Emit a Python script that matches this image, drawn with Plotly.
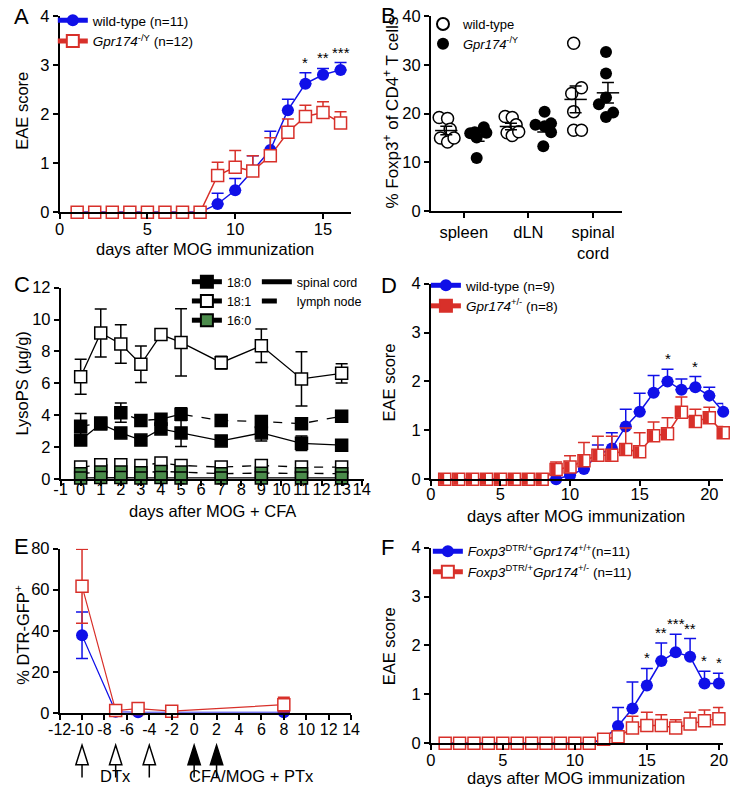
import numpy as np
import plotly.graph_objects as go

W, H = 740, 803
FONT = "Arial, 'Liberation Sans', sans-serif"
BLUE = "#1010e8"
RED = "#d8302a"
GREEN = "#4b8b4b"

# ---------------- Panel A data ----------------
a_days = list(range(1, 17))
a_wt = [0, 0, 0, 0, 0, 0, 0, 0, 0.17, 0.45, 0.85, 1.27, 2.08, 2.62, 2.80, 2.90]
a_wt_err = [0, 0, 0, 0, 0, 0, 0, 0, 0.22, 0.24, 0.30, 0.38, 0.22, 0.22, 0.13, 0.15]
a_ko = [0, 0, 0, 0, 0, 0, 0, 0, 0.75, 0.92, 0.84, 1.15, 1.63, 1.95, 2.03, 1.82]
a_ko_err = [0, 0, 0, 0, 0, 0, 0, 0, 0.27, 0.34, 0.31, 0.37, 0.27, 0.23, 0.22, 0.23]
a_sig_days = [14, 15, 16]
a_sig = ["*", "**", "***"]

# ---------------- Panel B data ----------------
b_tissues = ["spleen", "dLN", "spinal<br>cord"]
b_wt = [
    [19.2, 19.0, 16.8, 15.0, 14.2, 15.0],
    [19.4, 19.2, 17.7, 16.1, 15.5, 16.3],
    [34.4, 24.1, 25.3, 20.4, 16.6, 16.6],
]
b_ko = [
    [16.0, 16.2, 17.2, 15.1, 16.1, 10.9],
    [17.7, 20.4, 17.4, 18.0, 16.2, 13.3],
    [32.6, 28.2, 23.3, 21.9, 19.3, 20.2],
]
b_wt_jitter = [
    [-0.11, 0.02, 0.06, -0.09, 0.02, 0.12],
    [-0.09, 0.02, 0.08, -0.06, 0.02, 0.12],
    [-0.03, -0.06, 0.09, -0.03, -0.03, 0.09],
]
b_ko_jitter = [
    [-0.13, -0.06, 0.08, -0.03, 0.12, -0.03],
    [-0.12, 0.02, 0.02, 0.12, 0.12, 0.0],
    [-0.03, -0.03, -0.03, -0.14, -0.03, 0.08],
]

# ---------------- Panel C data ----------------
c_days = [0, 1, 2, 3, 4, 5, 7, 9, 11, 13]
c181_sc = [6.42, 9.16, 8.47, 7.20, 9.06, 8.57, 7.30, 8.36, 6.28, 6.63]
c181_sc_err = [1.10, 1.50, 1.20, 1.15, 0.10, 2.10, 0.40, 1.05, 1.70, 0.60]
c180_ln = [3.31, 3.52, 4.17, 3.68, 3.76, 4.07, 3.68, 3.62, 3.48, 3.95]
c180_ln_err = [0.80, 0.20, 0.60, 0.35, 0.30, 0.40, 0.20, 0.35, 0.20, 0.15]
c180_sc = [2.45, 3.46, 2.90, 2.45, 3.15, 2.90, 2.40, 2.90, 2.25, 2.13]
c180_sc_err = [0.30, 0.15, 0.15, 0.15, 0.20, 0.85, 0.15, 0.50, 0.45, 0.15]
c181_ln = [0.76, 0.90, 0.90, 0.86, 1.02, 0.86, 0.76, 0.86, 0.76, 0.76]
c160_ln = [0.35, 0.45, 0.45, 0.40, 0.49, 0.45, 0.35, 0.38, 0.35, 0.35]
c160_sc = [0.08, 0.10, 0.10, 0.08, 0.10, 0.08, 0.08, 0.08, 0.08, 0.08]
c_xticks = list(range(-1, 15))
c_xticklabels = ["-1"] + [str(v) for v in range(0, 15)]

# ---------------- Panel D data ----------------
d_days = list(range(1, 22))
d_wt = [0, 0, 0, 0, 0, 0, 0, 0, 0.0, 0.08, 0.21, 0.50, 0.63, 1.08, 1.38, 1.77, 2.00, 1.83, 1.88, 1.71, 1.38]
d_wt_err = [0, 0, 0, 0, 0, 0, 0, 0, 0, 0.05, 0.10, 0.20, 0.32, 0.35, 0.38, 0.35, 0.25, 0.22, 0.22, 0.17, 0.17]
d_het = [0, 0, 0, 0, 0, 0, 0, 0, 0.20, 0.25, 0.38, 0.49, 0.49, 0.61, 0.56, 0.89, 0.93, 1.37, 1.18, 1.26, 0.95]
d_het_err = [0, 0, 0, 0, 0, 0, 0, 0, 0.15, 0.23, 0.37, 0.39, 0.39, 0.44, 0.39, 0.28, 0.33, 0.31, 0.25, 0.21, 0.13]
d_sig_days = [17, 19]
d_sig = ["*", "*"]

# ---------------- Panel E data ----------------
e_days = [-10, -7, -5, -2, 8]
e_wt = [37.8, 0.5, 0.3, 0.3, 0.3]
e_wt_err = [11.3, 0.3, 0.3, 0.2, 0.3]
e_het = [61.7, 1.1, 2.1, 0.8, 4.0]
e_het_err = [18.0, 0.5, 0.6, 0.4, 3.6]
e_dtx_days = [-10, -7, -4]
e_immun_days = [0, 2]
e_xticks = list(range(-12, 15, 2))
e_xticklabels = [str(v) for v in e_xticks]

# ---------------- Panel F data ----------------
f_days = list(range(1, 21))
f_wt = [0, 0, 0, 0, 0, 0, 0, 0, 0, 0, 0, 0.08, 0.35, 0.71, 1.18, 1.68, 1.86, 1.77, 1.22, 1.22]
f_wt_err = [0, 0, 0, 0, 0, 0, 0, 0, 0, 0, 0, 0, 0.38, 0.54, 0.35, 0.37, 0.37, 0.37, 0.25, 0.21]
f_het = [0, 0, 0, 0, 0, 0, 0, 0, 0, 0, 0, 0.08, 0.13, 0.31, 0.36, 0.36, 0.31, 0.39, 0.46, 0.50]
f_het_err = [0, 0, 0, 0, 0, 0, 0, 0, 0, 0, 0, 0, 0.10, 0.24, 0.27, 0.22, 0.17, 0.24, 0.22, 0.23]
f_sig_days = [15, 16, 17, 18, 19, 20]
f_sig = ["*", "**", "***", "**", "*", "*"]


def dx(a, b):
    return [a / W, b / W]


def dy(top, bottom):
    return [1 - bottom / H, 1 - top / H]


def ypx(p):
    return 1 - p / H


fig = go.Figure()

axis_style = dict(
    showline=True, linecolor="black", linewidth=1.5, ticks="outside",
    ticklen=5, tickwidth=1.5, tickcolor="black", showgrid=False,
    zeroline=False, tickfont=dict(size=16.5, family=FONT, color="black"),
)

panels = {
    # name: (xdom px, ydom px, xrange, yrange, xticks, yticks, x label standoff)
    "1": ((49, 349), (7, 208), [0, 16.6], [0, 4], [0, 5, 10, 15], [0, 1, 2, 3, 4], -4),
    "2": ((431, 628), (7, 207), [0.49, 3.45], [0, 40], [1, 2, 3], [0, 10, 20, 30, 40], 0),
    "3": ((50, 362), (285, 481), [-1, 14.1], [0, 12], c_xticks, [0, 2, 4, 6, 8, 10, 12], -11),
    "4": ((431, 732), (281, 481), [0, 21.0], [0, 4], [0, 5, 10, 15, 20], [0, 1, 2, 3, 4], -6),
    "5": ((49, 349), (552, 720), [-12, 14], [0, 80], e_xticks, [0, 20, 40, 60, 80], -4),
    "6": ((431, 732), (551, 751), [0, 20.3], [0, 4], [0, 5, 10, 15, 20], [0, 1, 2, 3, 4], -4),
}
for k, (xd, yd, xr, yr, xt, yt, so) in panels.items():
    xa = dict(axis_style, domain=dx(*xd), range=xr, tickvals=xt, anchor="y" + k,
              tickangle=0, ticklabelstandoff=so)
    ya = dict(axis_style, domain=dy(*yd), range=yr, tickvals=yt, anchor="x" + k)
    if k == "2":
        xa["ticktext"] = b_tissues
    if k == "3":
        xa["ticktext"] = c_xticklabels
    if k == "5":
        xa["ticktext"] = e_xticklabels
        xa["tickfont"] = dict(size=16, family=FONT, color="black")
    fig.update_layout(**{("xaxis" if k == "1" else "xaxis" + k): xa,
                         ("yaxis" if k == "1" else "yaxis" + k): ya})
fig.layout.xaxis.anchor = "y"
fig.layout.yaxis.anchor = "x"


def ax(k):
    return ("x" if k == "1" else "x" + k), ("y" if k == "1" else "y" + k)


def up_err(err, color, width=6):
    return dict(type="data", array=err, arrayminus=[0] * len(err), symmetric=False,
                color=color, thickness=1.5, width=width)


def sym_err(err, color, width=6):
    return dict(type="data", array=err, symmetric=True, color=color, thickness=1.5, width=width)


# ---------------- Panel A ----------------
xa_, ya_ = ax("1")
fig.add_trace(go.Scatter(x=a_days, y=a_ko, mode="lines", line=dict(color=RED, width=1.5),
                         xaxis=xa_, yaxis=ya_, showlegend=False, cliponaxis=False))
fig.add_trace(go.Scatter(x=a_days, y=a_wt, mode="lines+markers", line=dict(color=BLUE, width=1.5),
                         marker=dict(symbol="circle", size=12, color=BLUE),
                         error_y=up_err(a_wt_err, BLUE), xaxis=xa_, yaxis=ya_,
                         name="wild-type (n=11)", legend="legend", cliponaxis=False))
fig.add_trace(go.Scatter(x=a_days, y=a_ko, mode="markers",
                         marker=dict(symbol="square", size=12, color="white", line=dict(color=RED, width=1.5)),
                         error_y=up_err(a_ko_err, RED), xaxis=xa_, yaxis=ya_, showlegend=False, cliponaxis=False))
fig.add_trace(go.Scatter(x=[None], y=[None], mode="lines+markers", line=dict(color=RED, width=1.5),
                         marker=dict(symbol="square", size=12, color="white", line=dict(color=RED, width=1.5)),
                         xaxis=xa_, yaxis=ya_, name="<i>Gpr174</i><sup>-/Y</sup> (n=12)", legend="legend"))

# ---------------- Panel B ----------------
xa_, ya_ = ax("2")
wt_off, ko_off = -0.27, 0.23
for gi, (vals, jit) in enumerate(zip(b_wt, b_wt_jitter)):
    cx = gi + 1 + wt_off
    fig.add_trace(go.Scatter(x=[cx + j for j in jit], y=vals, mode="markers",
                             marker=dict(symbol="circle", size=12, color="white", line=dict(color="black", width=1.5)),
                             xaxis=xa_, yaxis=ya_, showlegend=False, cliponaxis=False))
for gi, (vals, jit) in enumerate(zip(b_ko, b_ko_jitter)):
    cx = gi + 1 + ko_off
    fig.add_trace(go.Scatter(x=[cx + j for j in jit], y=vals, mode="markers",
                             marker=dict(symbol="circle", size=12, color="black"),
                             xaxis=xa_, yaxis=ya_, showlegend=False, cliponaxis=False))
for groups, off in ((b_wt, wt_off), (b_ko, ko_off)):
    means = [float(np.mean(v)) for v in groups]
    sems = [float(np.std(v, ddof=1) / np.sqrt(len(v))) for v in groups]
    fig.add_trace(go.Scatter(x=[i + 1 + off for i in range(3)], y=means, mode="markers",
                             marker=dict(symbol="line-ew", size=16, line=dict(color="black", width=1.5)),
                             error_y=sym_err(sems, "black", 6), xaxis=xa_, yaxis=ya_,
                             showlegend=False, cliponaxis=False))
fig.add_trace(go.Scatter(x=[None], y=[None], mode="markers",
                         marker=dict(symbol="circle", size=11, color="white", line=dict(color="black", width=1.5)),
                         xaxis=xa_, yaxis=ya_, name="wild-type", legend="legend2"))
fig.add_trace(go.Scatter(x=[None], y=[None], mode="markers",
                         marker=dict(symbol="circle", size=11, color="black"),
                         xaxis=xa_, yaxis=ya_, name="<i>Gpr174</i><sup>-/Y</sup>", legend="legend2"))

# ---------------- Panel C ----------------
xa_, ya_ = ax("3")
c_series = [
    (c181_sc, c181_sc_err, "white", "solid"),
    (c180_ln, c180_ln_err, "black", "dash"),
    (c180_sc, c180_sc_err, "black", "solid"),
    (c181_ln, None, "white", "dash"),
    (c160_ln, None, GREEN, "dash"),
    (c160_sc, None, GREEN, "solid"),
]
for vals, err, fillc, dash in c_series:
    tr = dict(x=c_days, y=vals, mode="lines+markers", line=dict(color="black", width=1.3, dash=dash),
              marker=dict(symbol="square", size=12, color=fillc, line=dict(color="black", width=1.5)),
              xaxis=xa_, yaxis=ya_, showlegend=False, cliponaxis=False)
    if err is not None:
        tr["error_y"] = sym_err(err, "black", 6)
    fig.add_trace(go.Scatter(**tr))
for name, fillc in (("18:0", "black"), ("18:1", "white"), ("16:0", GREEN)):
    fig.add_trace(go.Scatter(x=[None], y=[None], mode="lines+markers", line=dict(color="black", width=1.3),
                             marker=dict(symbol="square", size=11, color=fillc, line=dict(color="black", width=1.5)),
                             xaxis=xa_, yaxis=ya_, name=name, legend="legend3"))
for name, dash in (("spinal cord", "solid"), ("lymph node", "dash")):
    fig.add_trace(go.Scatter(x=[None], y=[None], mode="lines", line=dict(color="black", width=1.3, dash=dash),
                             xaxis=xa_, yaxis=ya_, name=name, legend="legend4"))

# ---------------- Panel D ----------------
xa_, ya_ = ax("4")
fig.add_trace(go.Scatter(x=d_days, y=d_het, mode="lines", line=dict(color=RED, width=1.5),
                         xaxis=xa_, yaxis=ya_, showlegend=False, cliponaxis=False))
fig.add_trace(go.Scatter(x=d_days, y=d_wt, mode="lines+markers", line=dict(color=BLUE, width=1.5),
                         marker=dict(symbol="circle", size=12, color=BLUE),
                         error_y=up_err(d_wt_err, BLUE), xaxis=xa_, yaxis=ya_,
                         name="wild-type (n=9)", legend="legend5", cliponaxis=False))
fig.add_trace(go.Scatter(x=d_days, y=d_het, mode="markers",
                         marker=dict(symbol="square", size=12, color="white", line=dict(color=RED, width=1.5)),
                         error_y=up_err(d_het_err, RED), xaxis=xa_, yaxis=ya_, showlegend=False, cliponaxis=False))
# right half fill of the half-filled squares (marker pushed a few px right via standoff)
fig.add_trace(go.Scatter(x=d_days, y=d_het, mode="markers",
                         marker=dict(symbol="line-ew", size=8, angle=90, standoff=3,
                                     line=dict(color=RED, width=5)),
                         xaxis=xa_, yaxis=ya_, showlegend=False, cliponaxis=False))
fig.add_trace(go.Scatter(x=[None], y=[None], mode="lines+markers", line=dict(color=RED, width=1.5),
                         marker=dict(symbol="square", size=12, color=RED, line=dict(color=RED, width=1.5)),
                         xaxis=xa_, yaxis=ya_, name="<i>Gpr174</i><sup>+/-</sup> (n=8)", legend="legend5"))

# ---------------- Panel E ----------------
xa_, ya_ = ax("5")
fig.add_trace(go.Scatter(x=e_days, y=e_wt, mode="lines+markers", line=dict(color=BLUE, width=1.2),
                         marker=dict(symbol="circle", size=12, color=BLUE),
                         error_y=sym_err(e_wt_err, BLUE), xaxis=xa_, yaxis=ya_, showlegend=False, cliponaxis=False))
fig.add_trace(go.Scatter(x=e_days, y=e_het, mode="lines+markers", line=dict(color=RED, width=1.2),
                         marker=dict(symbol="square", size=12, color="white", line=dict(color=RED, width=1.5)),
                         error_y=sym_err(e_het_err, RED), xaxis=xa_, yaxis=ya_, showlegend=False, cliponaxis=False))

# ---------------- Panel F ----------------
xa_, ya_ = ax("6")
fig.add_trace(go.Scatter(x=f_days, y=f_het, mode="lines", line=dict(color=RED, width=1.5),
                         xaxis=xa_, yaxis=ya_, showlegend=False, cliponaxis=False))
fig.add_trace(go.Scatter(x=f_days, y=f_wt, mode="lines+markers", line=dict(color=BLUE, width=1.5),
                         marker=dict(symbol="circle", size=12, color=BLUE),
                         error_y=up_err(f_wt_err, BLUE), xaxis=xa_, yaxis=ya_,
                         name="<i>Foxp3</i><sup>DTR/+</sup><i>Gpr174</i><sup>+/+</sup>(n=11)",
                         legend="legend6", cliponaxis=False))
fig.add_trace(go.Scatter(x=f_days, y=f_het, mode="markers",
                         marker=dict(symbol="square", size=12, color="white", line=dict(color=RED, width=1.5)),
                         error_y=up_err(f_het_err, RED), xaxis=xa_, yaxis=ya_, showlegend=False, cliponaxis=False))
fig.add_trace(go.Scatter(x=[None], y=[None], mode="lines+markers", line=dict(color=RED, width=1.5),
                         marker=dict(symbol="square", size=12, color="white", line=dict(color=RED, width=1.5)),
                         xaxis=xa_, yaxis=ya_, name="<i>Foxp3</i><sup>DTR/+</sup><i>Gpr174</i><sup>+/-</sup> (n=11)",
                         legend="legend6"))

# ---------------- annotations ----------------
ann = []


def txt(x, y, text, size=16.5, xanchor="center", yanchor="middle", angle=0, xref="paper", yref="paper"):
    ann.append(dict(x=x, y=y, text=text, showarrow=False, xref=xref, yref=yref, xanchor=xanchor,
                    yanchor=yanchor, textangle=angle, font=dict(size=size, family=FONT, color="black")))


# panel letters
for letter, px, py in (("A", 0, 8), ("B", 378, 7), ("C", 0, 282), ("D", 378, 283), ("E", 0, 550), ("F", 378, 551)):
    txt(px / W, ypx(py), letter, size=22, xanchor="left")

# axis titles
txt(199 / W, ypx(245), "days after MOG immunization")
txt(-1 / W, ypx(104), "EAE score", angle=-90, xanchor="left")
txt(390 / W, ypx(106), "% Foxp3<sup>+</sup> of CD4<sup>+</sup> T cells", size=17, angle=-90)
txt(206 / W, ypx(513), "days after MOG + CFA")
txt(-1 / W, ypx(383), "LysoPS (µg/g)", angle=-90, xanchor="left")
txt(580 / W, ypx(519), "days after MOG immunization")
txt(388 / W, ypx(382), "EAE score", angle=-90)
txt(-2 / W, ypx(640), "% DTR-GFP<sup>+</sup>", angle=-90, xanchor="left")
txt(580 / W, ypx(787), "days after MOG immunization")
txt(388 / W, ypx(652), "EAE score", angle=-90)

# significance stars
for days, labels, xs, vals, errs, k in ((a_sig_days, a_sig, a_days, a_wt, a_wt_err, "1"),
                                        (d_sig_days, d_sig, d_days, d_wt, d_wt_err, "4"),
                                        (f_sig_days, f_sig, f_days, f_wt, f_wt_err, "6")):
    xr_, yr_ = ax(k)
    for d, lab in zip(days, labels):
        i = xs.index(d)
        ann.append(dict(x=d, y=vals[i] + errs[i], text=lab, showarrow=False, xref=xr_, yref=yr_,
                        yanchor="bottom", font=dict(size=15, family=FONT, color="black")))

# panel E arrows and labels
shapes = []
for days, fill in ((e_dtx_days, "white"), (e_immun_days, "black")):
    for d in days:
        shapes.append(dict(type="path", xref="x5", yref="paper",
                           path=f"M {d - 0.55},{ypx(773)} L {d},{ypx(753)} L {d + 0.55},{ypx(773)} Z",
                           fillcolor=fill, line=dict(color="black", width=1.5)))
        shapes.append(dict(type="line", xref="x5", yref="paper", x0=d, x1=d, y0=ypx(773), y1=ypx(786),
                           line=dict(color="black", width=1.5)))
ann.append(dict(x=e_dtx_days[1], y=ypx(796), xref="x5", yref="paper", text="DTx", showarrow=False,
                font=dict(size=16.5, family=FONT, color="black")))
ann.append(dict(x=e_immun_days[0] - 0.6, y=ypx(796), xref="x5", yref="paper", text="CFA/MOG + PTx",
                showarrow=False, xanchor="left", font=dict(size=16.5, family=FONT, color="black")))

leg_base = dict(bgcolor="rgba(0,0,0,0)", borderwidth=0, xanchor="left", yanchor="top",
                font=dict(size=13.5, family=FONT, color="black"), itemsizing="constant", itemwidth=30)
f13 = dict(size=13, family=FONT, color="black")
f125 = dict(size=12.5, family=FONT, color="black")
fig.update_layout(
    width=W, height=H, margin=dict(l=0, r=0, t=0, b=0),
    paper_bgcolor="white", plot_bgcolor="white",
    font=dict(family=FONT, color="black"),
    annotations=ann, shapes=shapes,
    legend=dict(leg_base, x=42 / W, y=ypx(-4)),
    legend2=dict(leg_base, x=423 / W, y=ypx(0), font=f13),
    legend3=dict(leg_base, x=180 / W, y=ypx(264), font=f125),
    legend4=dict(leg_base, x=252 / W, y=ypx(264), font=f125),
    legend5=dict(leg_base, x=426 / W, y=ypx(267)),
    legend6=dict(leg_base, x=428 / W, y=ypx(539)),
)

fig.write_html("out.html", config={"displayModeBar": False},
               post_script="document.body.style.margin='0';document.body.style.overflow='hidden';")
